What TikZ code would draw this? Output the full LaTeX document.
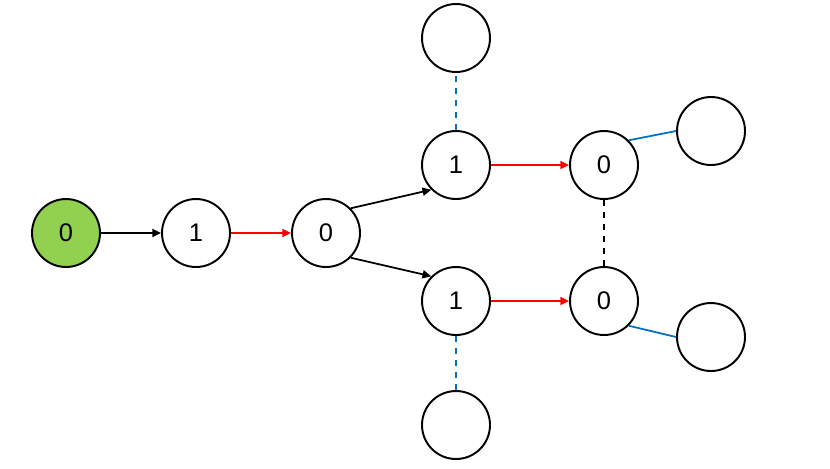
\documentclass[tikz,border=0pt]{standalone}
\usepackage{fontspec}
\setmainfont{Liberation Sans}
\usetikzlibrary{arrows.meta}
\definecolor{startgreen}{RGB}{146,208,80}
\definecolor{linkblue}{RGB}{0,112,192}

\begin{document}
\begin{tikzpicture}[x=0.02cm, y=-0.02cm,
  state/.style={circle, draw, line width=1.1pt, minimum size=1.36cm, inner sep=0pt,
    font=\fontsize{14.5}{17}\selectfont},
  arr/.style={line width=1pt, -{Triangle[length=5pt, width=4.6pt]}},
  link/.style={line width=1pt, linkblue},
  gap/.style={line width=1pt, dash pattern=on 3.4pt off 3.4pt}]
  \useasboundingbox (0,0) rectangle (830,468);

  % Chain
  \node[state, fill=startgreen] (s0) at (66,233) {0};
  \node[state] (s1) at (196,233) {1};
  \node[state] (s2) at (326,233) {0};

  % Branches
  \node[state] (u1) at (456,165) {1};
  \node[state] (d1) at (456,301) {1};
  \node[state] (u0) at (604,165) {0};
  \node[state] (d0) at (604,301) {0};

  % Empty neighbours
  \node[state] (ut) at (456,38) {};
  \node[state] (db) at (456,425) {};
  \node[state] (ur) at (711,131) {};
  \node[state] (dr) at (711,337) {};

  % Arrows
  \draw[arr] (s0) -- (s1);
  \draw[arr, red] (s1) -- (s2);
  \draw[arr] (s2.north east) -- (u1.south west);
  \draw[arr] (s2.south east) -- (d1.north west);
  \foreach \a/\b in {u1/u0, d1/d0}
    \draw[arr, red] (\a) -- (\b);

  % Links
  \draw[gap] (u0) -- (d0);
  \draw[link, gap] (u1) -- (ut);
  \draw[link, gap] (d1) -- (db);
  \draw[link] (u0.north east) -- (ur.west);
  \draw[link] (d0.south east) -- (dr.west);
\end{tikzpicture}
\end{document}
